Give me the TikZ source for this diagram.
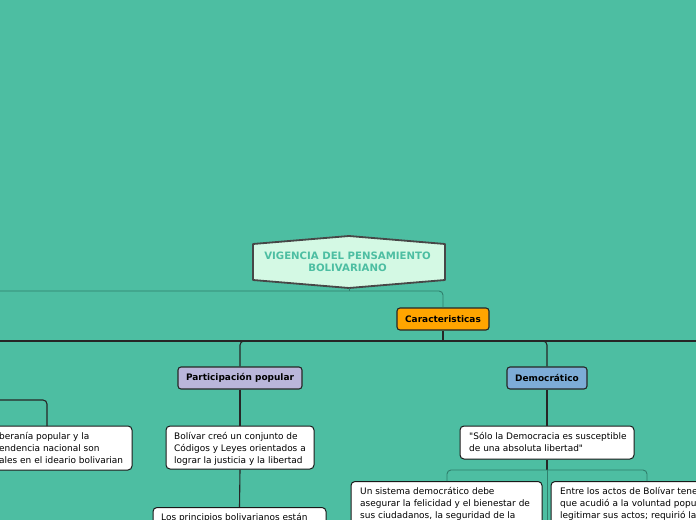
\documentclass[tikz,border=0pt]{standalone}
\usepackage{fontspec}
\setmainfont{DejaVu Sans}
\definecolor{bg}{HTML}{4DBEA2}
\definecolor{rootfill}{HTML}{D4F9E4}
\definecolor{roottext}{HTML}{4DBEA2}
\definecolor{tline}{HTML}{2F7F6C}
\definecolor{orangeC}{HTML}{FFA500}
\definecolor{lavC}{HTML}{BAB6DA}
\definecolor{blueC}{HTML}{7DACD7}
\begin{document}
\begin{tikzpicture}[x=1bp,y=-1bp,
  conn/.style={line width=1.1bp, draw=black!85, rounded corners=4bp},
  tconn/.style={line width=0.9bp, draw=tline, rounded corners=4bp},
  topic/.style={draw=black!85, line width=1.1bp, rounded corners=3bp,
    font=\fontsize{9}{11}\selectfont\bfseries, inner sep=0pt, minimum height=22bp},
  leaf/.style={draw=black!90, fill=white, line width=1bp, rounded corners=4bp, inner sep=0pt},
  leaftext/.style={font=\fontsize{9}{12}\selectfont, align=left, inner sep=0pt}
]
\useasboundingbox (0,0) rectangle (696,520);
\fill[bg] (0,0) rectangle (696,520);

% root
\filldraw[fill=rootfill, draw=black!72, line width=1.8bp, line join=round]
  (253,244) -- (349,236) -- (445,244) -- (445,280) -- (349,288) -- (253,280) -- cycle;
\node[font=\fontsize{10.2}{12}\selectfont\bfseries, text=roottext, align=center, inner sep=0pt] (root) at (347.5,261.5)
  {VIGENCIA DEL PENSAMIENTO\\BOLIVARIANO};
\coordinate (rootbot) at (349,288);

% topics
\node[topic, fill=orangeC, minimum width=92bp] (car) at (443,319) {Caracteristicas};
\node[topic, fill=lavC, minimum width=124bp] (pp) at (240,378) {Participación popular};
\node[topic, fill=blueC, minimum width=80bp] (dem) at (547,378) {Democrático};

% leaves
\node[leaf, minimum width=148bp, minimum height=43bp] (b1) at (240,447.5) {};
\node[leaftext, anchor=north west] (b1t) at (174,432.5) {Bolívar creó un conjunto de\\Códigos y Leyes orientados a\\lograr la justicia y la libertad};
\node[leaf, minimum width=173bp, minimum height=40bp, anchor=north] (b2) at (239.5,507) {};
\node[leaftext, anchor=north west] (b2t) at (161,513.5) {Los principios bolivarianos están};

\node[leaf, minimum width=192bp, minimum height=44bp] (bl) at (36,448) {};
\node[leaftext, anchor=north west] (blt) at (-1,432.5) {beranía popular y la\\endencia nacional son\\ales en el ideario bolivarian};
\coordinate (blin) at (47,426);

\node[leaf, minimum width=174bp, minimum height=33bp] (d1) at (547,442.5) {};
\node[leaftext, anchor=north west] (d1t) at (469,432.5) {\textquotedbl Sólo la Democracia es susceptible\\de una absoluta libertad\textquotedbl};

\node[leaf, minimum width=191bp, minimum height=60bp, anchor=north] (d2) at (446.5,481) {};
\node[leaftext, anchor=north west] (d2t) at (360,487.5) {Un sistema democrático debe\\asegurar la felicidad y el bienestar de\\sus ciudadanos, la seguridad de la};
\node[leaf, minimum width=209bp, minimum height=60bp, anchor=north] (d3) at (655.5,481) {};
\node[leaftext, anchor=north west] (d3t) at (560,487.5) {Entre los actos de Bolívar tene\\que acudió a la voluntad popu\\legitimar sus actos; requirió la};
\coordinate (d2in) at (447,481);
\coordinate (d3in) at (647,481);
\coordinate (dsplit) at (547,470);

% connectors
\draw[tconn] (rootbot) -- (349,291);
\draw[tconn] (-10,291) -| (car.north);
\draw[conn] (car.south) -- (443,341);
\draw[conn] (-10,341) -- (706,341);
\draw[conn] (443,341) -| (pp.north);
\draw[conn] (443,341) -| (dem.north);
\draw[conn] (-10,400) -| (blin);
\draw[conn] (pp.south) -- (b1.north);
\draw[conn] (b1.south) -- (b2.north);
\draw[conn] (dem.south) -- (d1.north);
\draw[conn] (d1.south) -- (dsplit);
\draw[tconn] (dsplit) -| (d2in);
\draw[tconn] (dsplit) -| (d3in);
\draw[tconn] (dsplit) -- (547,525);
\end{tikzpicture}
\end{document}
